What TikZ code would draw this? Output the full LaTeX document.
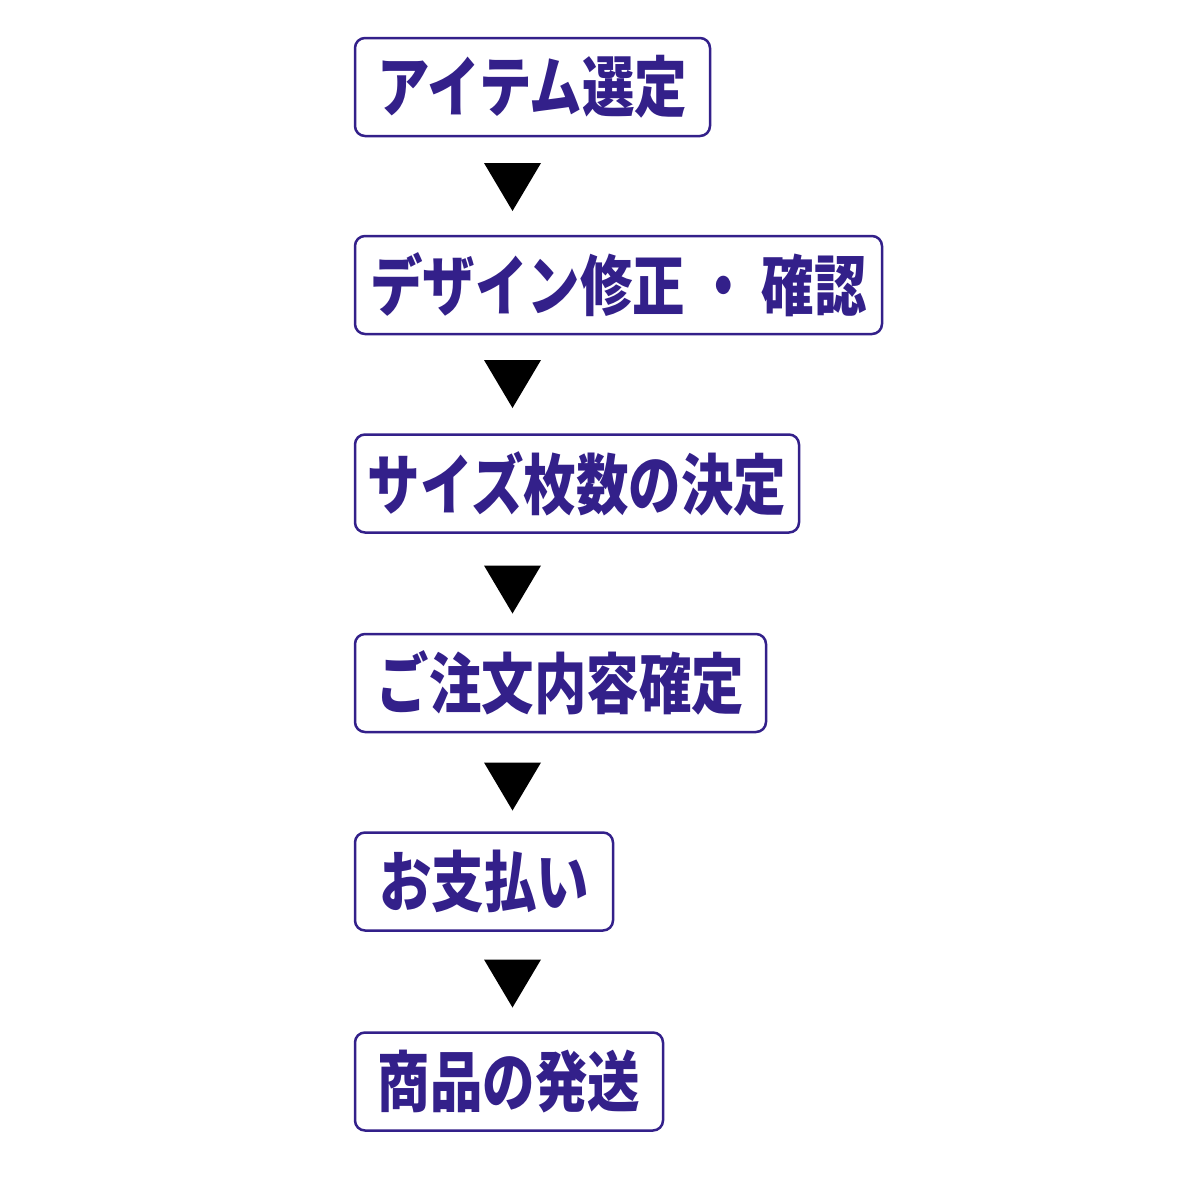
\documentclass[tikz,border=0pt]{standalone}
\usepackage{fontspec}
\newfontfamily\jp[FakeStretch=0.795]{Noto Sans CJK JP Black}
\definecolor{navy}{HTML}{33208A}
\begin{document}
\begin{tikzpicture}[x=1pt,y=-1pt,
  stepbox/.style={draw=navy, line width=2.5pt, rounded corners=10pt, fill=white,
    anchor=west, inner sep=0pt, outer sep=0pt, minimum height=98pt,
    text=navy, font=\jp\fontsize{66}{66}\selectfont, align=center},
  tri/.style={fill=black}]
\useasboundingbox (0,0) rectangle (1178,1179);
\node[stepbox, minimum width=355pt] (s1) at (355,87) {アイテム選定};
\node[stepbox, minimum width=527pt] (s2) at (355,285) {デザイン修正 ・ 確認};
\node[stepbox, minimum width=444pt] (s3) at (355,483.5) {サイズ枚数の決定};
\node[stepbox, minimum width=411pt] (s4) at (355,683) {ご注文内容確定};
\node[stepbox, minimum width=258pt] (s5) at (355,881.5) {お支払い};
\node[stepbox, minimum width=308pt] (s6) at (355,1081.5) {商品の発送};
\coordinate (v1) at (512.5,187);
\coordinate (v2) at (512.5,384);
\coordinate (v3) at (512.5,589.5);
\coordinate (v4) at (512.5,786.5);
\coordinate (v5) at (512.5,983.5);
\foreach \v in {v1,v2,v3,v4,v5}
  \fill[tri] (\v) ++(-28.5,-24) -- ++(57,0) -- ++(-28.5,48) -- cycle;
\end{tikzpicture}
\end{document}
